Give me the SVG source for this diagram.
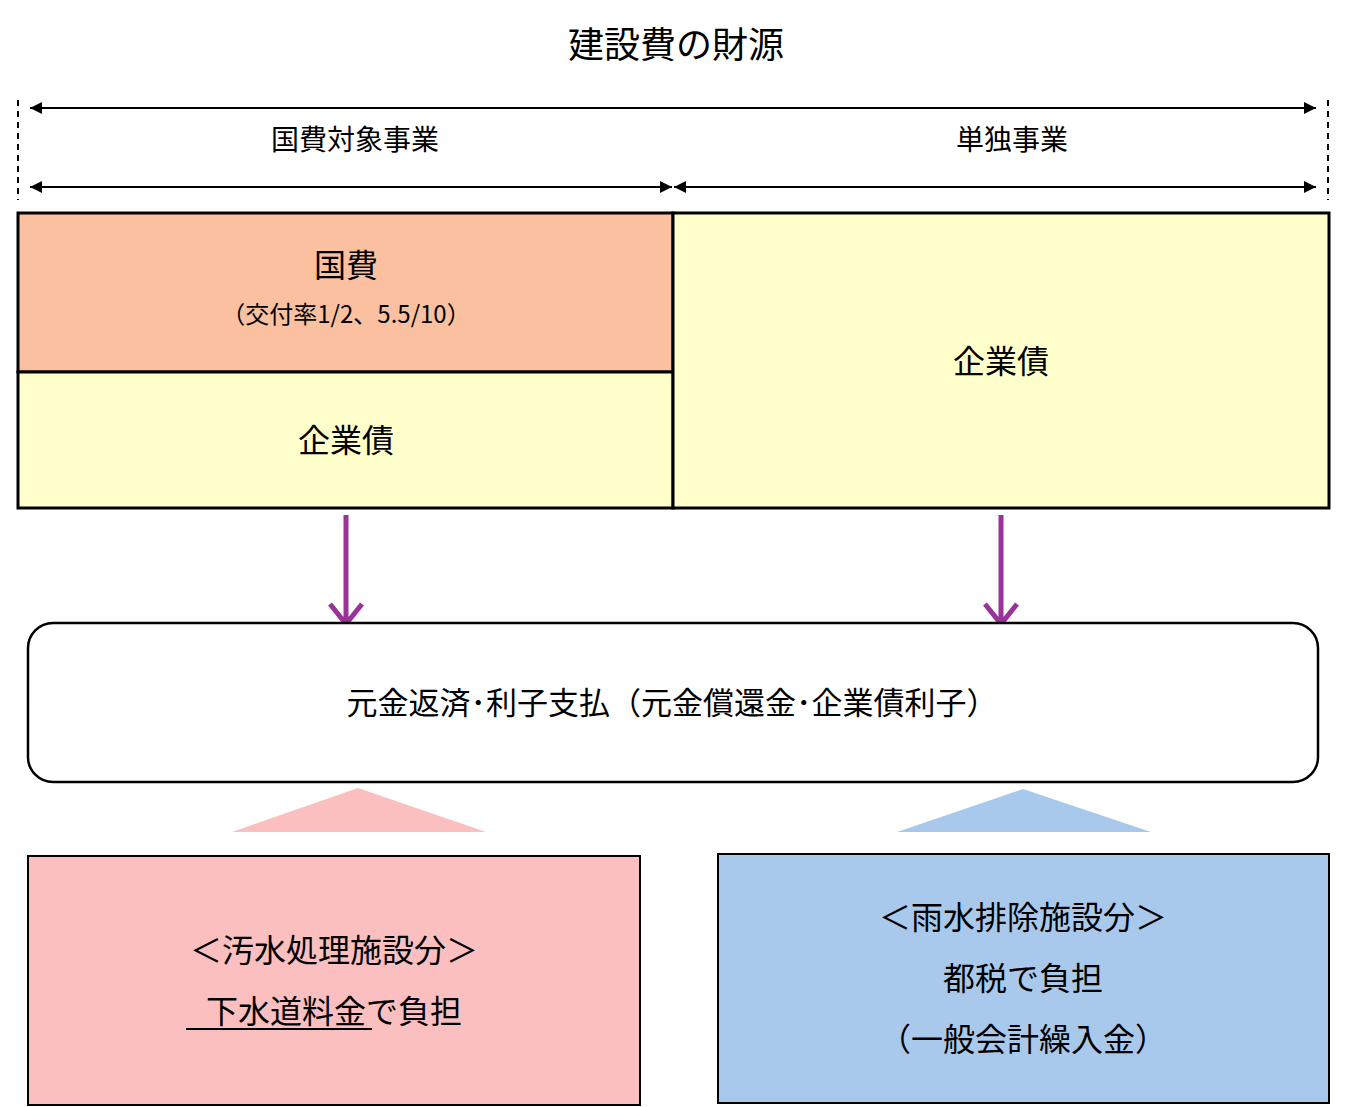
<svg xmlns="http://www.w3.org/2000/svg" width="1346" height="1107" viewBox="0 0 1346 1107">
<style>
text{font-family:"Noto Sans CJK JP","Liberation Sans",sans-serif;fill:#000;text-anchor:middle}
.b{stroke:#000;stroke-width:3}
.ar{stroke:#000;stroke-width:2;fill:none}
.pa{stroke:#993399;stroke-width:5;fill:none}
</style>
<defs>
<marker id="ah" viewBox="0 0 10 10" refX="10" refY="5" markerWidth="14" markerHeight="12" markerUnits="userSpaceOnUse" orient="auto-start-reverse"><path d="M0,0L10,5L0,10z" fill="#000"/></marker>
</defs>
<rect width="1346" height="1107" fill="#fff"/>
<text x="676" y="58" font-size="36">建設費の財源</text>
<g id="connectors">
<line x1="18" y1="100" x2="18" y2="200" stroke="#000" stroke-width="2" stroke-dasharray="6,5"/>
<line x1="1328" y1="100" x2="1328" y2="200" stroke="#000" stroke-width="2" stroke-dasharray="6,5"/>
<line class="ar" x1="30" y1="108" x2="1316" y2="108" marker-start="url(#ah)" marker-end="url(#ah)" style="stroke-width:2"/>
<line class="ar" x1="30" y1="187" x2="672" y2="187" marker-start="url(#ah)" marker-end="url(#ah)"/>
<line class="ar" x1="674" y1="187" x2="1316" y2="187" marker-start="url(#ah)" marker-end="url(#ah)"/>
<path class="pa" d="M346,515V624M330,604L346,624L362,604"/>
<path class="pa" d="M1001,515V624M985,604L1001,624L1017,604"/>
<polygon points="232,832 358,788 486,832" fill="#FBBFC0"/>
<polygon points="897,832 1023,789 1151,832" fill="#A9C9EC"/>
</g>
<text x="355" y="150" font-size="28">国費対象事業</text>
<text x="1012" y="150" font-size="28">単独事業</text>
<g id="kokuhi"><rect class="b" x="18" y="213" width="655" height="159" fill="#FBC0A0"/>
<text x="346" y="277" font-size="32">国費</text>
<text x="346" y="323" font-size="24">（交付率1/2、5.5/10）</text></g>
<g id="kigyousai1"><rect class="b" x="18" y="372" width="655" height="136" fill="#FFFFCC"/>
<text x="346" y="452" font-size="32">企業債</text></g>
<g id="kigyousai2"><rect class="b" x="673" y="213" width="656" height="295" fill="#FFFFCC"/>
<text x="1001" y="373" font-size="32">企業債</text></g>
<g id="repay"><rect x="28" y="623" width="1290" height="159" rx="25" fill="#fff" stroke="#000" stroke-width="2.5"/>
<text x="672" y="714" font-size="31">元金返済･利子支払（元金償還金･企業債利子）</text></g>
<g id="osui"><rect x="28" y="856" width="612" height="249" fill="#FBBFC0" stroke="#000" stroke-width="2"/>
<text x="334" y="962" font-size="32">＜汚水処理施設分＞</text>
<text x="334" y="1023" font-size="32">下水道料金で負担</text>
<line x1="186" y1="1029" x2="372" y2="1029" stroke="#000" stroke-width="2"/></g>
<g id="usui"><rect x="718" y="854" width="611" height="249" fill="#A9C9EC" stroke="#000" stroke-width="2"/>
<text x="1023" y="929" font-size="32">＜雨水排除施設分＞</text>
<text x="1023" y="990" font-size="32">都税で負担</text>
<text x="1023" y="1051" font-size="32">（一般会計繰入金）</text></g>
</svg>
